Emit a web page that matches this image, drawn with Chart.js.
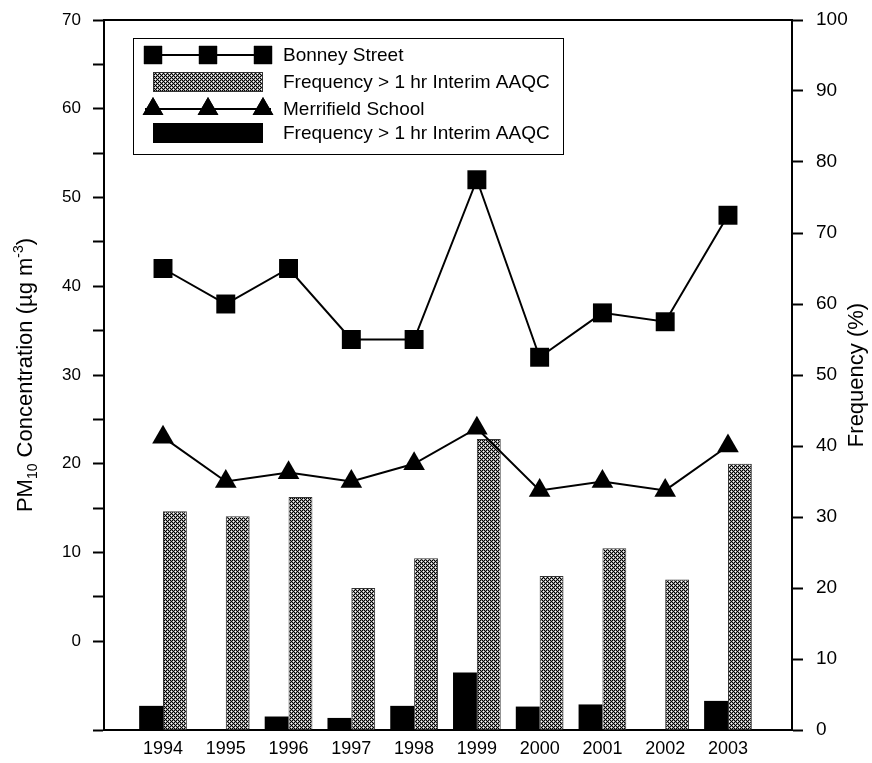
<!DOCTYPE html>
<html>
<head>
<meta charset="utf-8">
<script src="https://cdn.jsdelivr.net/npm/chart.js@4/dist/chart.umd.min.js"></script>
<style>
  html, body { margin: 0; padding: 0; background: #fff; }
  #wrap { width: 872px; height: 763px; }
</style>
</head>
<body>
<div id="wrap"><canvas id="pm10-chart"></canvas></div>
<script>
// data
const years = [1994, 1995, 1996, 1997, 1998, 1999, 2000, 2001, 2002, 2003];
const bonneyConc = [42, 38, 42, 34, 34, 52, 32, 37, 36, 48];
const merrifieldConc = [23, 18, 19, 18, 20, 24, 17, 18, 17, 22];
const bonneyFreq = [30.8, 30.1, 32.8, 20.0, 24.2, 41.0, 21.7, 25.6, 21.2, 37.5];
const merrifieldFreq = [3.4, 0, 1.9, 1.7, 3.4, 8.1, 3.3, 3.6, 0, 4.1];
const concTicks = [70, 60, 50, 40, 30, 20, 10, 0];
const freqTicks = [0, 10, 20, 30, 40, 50, 60, 70, 80, 90, 100];

const FONT = "'Liberation Sans', Arial, sans-serif";
Chart.defaults.font.family = FONT;
Chart.defaults.color = '#000';

// cross-hatch fill for the Bonney Street bars
function makeHatch() {
  const c = document.createElement('canvas');
  c.width = 4; c.height = 4;
  const g = c.getContext('2d');
  g.fillStyle = '#000';
  g.fillRect(0, 0, 4, 4);
  const light = [[1,0],[3,0],[0,1],[2,1],[1,2],[3,2],[0,3],[2,3]];
  g.fillStyle = '#999';
  light.forEach(p => g.fillRect(p[0], p[1], 1, 1));
  g.fillStyle = '#fff';
  g.fillRect(1, 1, 1, 1);
  g.fillRect(3, 3, 1, 1);
  return g.createPattern(c, 'repeat');
}
const hatch = makeHatch();

const pts = vals => years.map((y, i) => ({ x: y, y: vals[i] }));

// axis titles (with sub/superscripts) + top frame line
const extrasPlugin = {
  id: 'extras',
  afterDraw(chart) {
    const ctx = chart.ctx;
    const a = chart.chartArea;
    ctx.save();
    ctx.strokeStyle = '#000';
    ctx.lineWidth = 2;
    ctx.beginPath();
    ctx.moveTo(a.left - 1, a.top);
    ctx.lineTo(a.right + 1, a.top);
    ctx.stroke();

    // left title
    const parts = [
      { t: 'PM', s: 22, dy: 0 },
      { t: '10', s: 14, dy: 5 },
      { t: ' Concentration (\u00b5g m', s: 22, dy: 0 },
      { t: '-3', s: 14, dy: -9 },
      { t: ')', s: 22, dy: 0 }
    ];
    let total = 0;
    parts.forEach(p => { ctx.font = p.s + 'px ' + FONT; p.w = ctx.measureText(p.t).width; total += p.w; });
    ctx.translate(24, (a.top + a.bottom) / 2);
    ctx.rotate(-Math.PI / 2);
    ctx.fillStyle = '#000';
    ctx.textBaseline = 'alphabetic';
    let x = -total / 2;
    parts.forEach(p => {
      ctx.font = p.s + 'px ' + FONT;
      ctx.fillText(p.t, x, 8 + p.dy);
      x += p.w;
    });
    ctx.restore();

    // right title, reading bottom to top
    ctx.save();
    ctx.translate(857, (a.top + a.bottom) / 2);
    ctx.rotate(-Math.PI / 2);
    ctx.font = '22px ' + FONT;
    ctx.fillStyle = '#000';
    ctx.textAlign = 'center';
    ctx.textBaseline = 'middle';
    ctx.fillText('Frequency (%)', 0, 0);
    ctx.restore();
  }
};

// legend box drawn like the original (line with three markers)
const legendPlugin = {
  id: 'boxLegend',
  afterDraw(chart) {
    const ctx = chart.ctx;
    const ds = chart.data.datasets;
    const box = { x: 133, y: 38, w: 430, h: 116 };
    const rows = [55, 82, 109, 133];
    const x0 = 153, x1 = 263;
    ctx.save();
    ctx.fillStyle = '#fff';
    ctx.fillRect(box.x, box.y, box.w, box.h);
    ctx.strokeStyle = '#000';
    ctx.lineWidth = 1;
    ctx.strokeRect(box.x + 0.5, box.y + 0.5, box.w, box.h);
    ds.forEach((d, i) => {
      const y = rows[i];
      if (d.type === 'line') {
        ctx.strokeStyle = '#000';
        ctx.lineWidth = 2;
        ctx.beginPath();
        ctx.moveTo(x0 - 8, y);
        ctx.lineTo(x1 + 8, y);
        ctx.stroke();
        ctx.fillStyle = '#000';
        [x0, (x0 + x1) / 2, x1].forEach(px => {
          Chart.helpers.drawPoint(ctx, { pointStyle: d.pointStyle, radius: d.pointRadius - 0.5, rotation: 0, borderWidth: 0 }, px, y);
          ctx.fill();
        });
      } else {
        ctx.fillStyle = d.backgroundColor;
        ctx.fillRect(x0, y - 10, x1 - x0, 20);
        if (d.borderWidth) {
          ctx.strokeStyle = d.borderColor;
          ctx.lineWidth = 1;
          ctx.strokeRect(x0 + 0.5, y - 10 + 0.5, x1 - x0 - 1, 19);
        }
      }
      ctx.fillStyle = '#000';
      ctx.font = '19px ' + FONT;
      ctx.textBaseline = 'middle';
      ctx.fillText(d.label, 283, y + 1);
    });
    ctx.restore();
  }
};

const noPadV = s => { s.paddingTop = 0; s.paddingBottom = 0; };

new Chart(document.getElementById('pm10-chart'), {
  type: 'bar',
  data: {
    datasets: [
      {
        type: 'line', label: 'Bonney Street', data: pts(bonneyConc), yAxisID: 'yConc',
        borderColor: '#000', borderWidth: 2, backgroundColor: '#000',
        pointStyle: 'rect', pointRadius: 13.4, pointBorderWidth: 0, order: 0
      },
      {
        label: 'Frequency > 1 hr Interim AAQC', data: pts(bonneyFreq), yAxisID: 'yFreq',
        backgroundColor: hatch, borderColor: '#333', borderWidth: 1, order: 2
      },
      {
        type: 'line', label: 'Merrifield School', data: pts(merrifieldConc), yAxisID: 'yConc',
        borderColor: '#000', borderWidth: 2, backgroundColor: '#000',
        pointStyle: 'triangle', pointRadius: 12.5, pointBorderWidth: 0, order: 0
      },
      {
        label: 'Frequency > 1 hr Interim AAQC', data: pts(merrifieldFreq), yAxisID: 'yFreq',
        backgroundColor: '#000', borderWidth: 0, order: 1
      }
    ]
  },
  options: {
    responsive: true,
    maintainAspectRatio: false,
    animation: false,
    layout: { padding: { top: 20, left: 0, right: 0, bottom: 0 } },
    datasets: { bar: { categoryPercentage: 0.76, barPercentage: 1.0 } },
    plugins: { legend: { display: false }, tooltip: { enabled: false } },
    scales: {
      x: {
        type: 'linear', min: 1993.06, max: 2004.02, offset: false,
        afterBuildTicks: s => { s.ticks = years.map(v => ({ value: v })); },
        afterFit: s => { s.height = 33; s.paddingLeft = 0; s.paddingRight = 0; },
        grid: { display: true, drawOnChartArea: false, drawTicks: false, offset: false },
        border: { color: '#000', width: 2 },
        ticks: { font: { size: 18 }, padding: 8, maxRotation: 0, callback: v => String(v) }
      },
      yConc: {
        type: 'linear', position: 'left', min: -10, max: 70,
        afterBuildTicks: s => {
          const t = [];
          for (let v = -10; v <= 70; v += 5) t.push({ value: v });
          s.ticks = t;
        },
        afterFit: s => { s.width = 104; noPadV(s); },
        grid: {
          drawOnChartArea: false, tickLength: 11, tickWidth: 2,
          tickColor: c => (c.tick && c.tick.value === -5) ? 'rgba(0,0,0,0)' : '#000'
        },
        border: { color: '#000', width: 2 },
        ticks: {
          font: { size: 17 }, padding: 12,
          callback: v => concTicks.includes(v) ? String(v) : ''
        }
      },
      yFreq: {
        type: 'linear', position: 'right', min: 0, max: 100,
        afterBuildTicks: s => { s.ticks = freqTicks.map(v => ({ value: v })); },
        afterFit: s => { s.width = 80; noPadV(s); },
        grid: { drawOnChartArea: false, tickLength: 11, tickWidth: 2, tickColor: '#000' },
        border: { color: '#000', width: 2 },
        ticks: { font: { size: 19 }, padding: 13, callback: v => String(v) }
      }
    }
  },
  plugins: [extrasPlugin, legendPlugin]
});
</script>
</body>
</html>
